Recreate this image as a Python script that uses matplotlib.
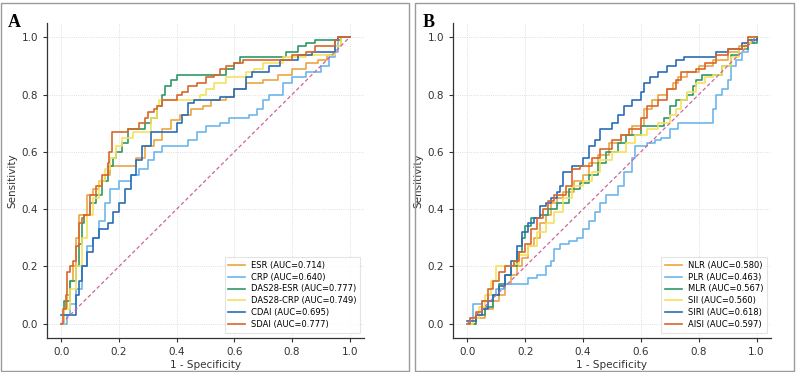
import matplotlib
matplotlib.use("Agg")
import matplotlib.pyplot as plt
from matplotlib.patches import Rectangle

# Panel A: clinical indices (fpr, tpr staircase vertices)
esr_fpr = [0, .01, .02, .03, .04, .05, .06, .09, .11, .13, .15, .17, .26, .29, .32, .35, .38, .41, .45, .49, .52, .57, .60, .64, .70, .75, .80, .85, .89, .92, .95, .97, 1.0]
esr_tpr = [0, .05, .10, .15, .20, .30, .38, .45, .47, .50, .52, .55, .58, .62, .64, .68, .71, .73, .75, .76, .78, .79, .82, .84, .85, .87, .89, .91, .92, .94, .97, 1.0, 1.0]

crp_fpr = [0, .02, .03, .05, .07, .09, .11, .13, .15, .17, .20, .24, .27, .30, .32, .35, .44, .47, .50, .55, .58, .65, .68, .70, .72, .77, .80, .85, .90, .93, .95, .96, 1.0]
crp_tpr = [0, .03, .07, .12, .20, .27, .30, .36, .42, .47, .50, .52, .54, .57, .60, .62, .64, .67, .69, .70, .72, .73, .75, .78, .80, .84, .86, .88, .90, .93, .95, 1.0, 1.0]

das_esr_fpr = [0, .01, .03, .05, .06, .07, .08, .10, .12, .14, .16, .18, .19, .21, .23, .29, .31, .33, .35, .36, .38, .40, .57, .60, .62, .78, .82, .85, .88, .97, 1.0]
das_esr_tpr = [0, .08, .15, .20, .28, .35, .38, .42, .45, .50, .55, .58, .60, .63, .68, .70, .72, .76, .80, .83, .85, .87, .89, .91, .93, .95, .97, .98, .99, 1.0, 1.0]

das_crp_fpr = [0, .01, .03, .05, .07, .09, .11, .13, .15, .17, .19, .21, .25, .31, .33, .34, .48, .50, .53, .57, .64, .67, .70, .77, .85, .95, .97, 1.0]
das_crp_tpr = [0, .05, .12, .20, .30, .38, .44, .50, .54, .58, .62, .65, .67, .72, .76, .78, .80, .82, .84, .86, .88, .89, .91, .93, .94, .97, 1.0, 1.0]

cdai_fpr = [0, .05, .06, .07, .09, .11, .13, .16, .18, .20, .22, .24, .26, .28, .31, .40, .42, .44, .46, .55, .60, .64, .66, .72, .76, .82, .87, .95, .96, 1.0]
cdai_tpr = [.03, .10, .15, .20, .25, .30, .33, .35, .39, .42, .47, .52, .57, .62, .67, .70, .73, .77, .78, .79, .82, .86, .88, .90, .92, .94, .95, .99, 1.0, 1.0]

sdai_fpr = [0, .005, .015, .02, .03, .04, .05, .06, .07, .08, .10, .12, .14, .16, .165, .175, .23, .27, .29, .30, .32, .33, .35, .40, .42, .44, .47, .50, .53, .55, .57, .60, .63, .80, .85, .88, .95, .96, 1.0]
sdai_tpr = [0, .05, .10, .18, .20, .22, .27, .35, .37, .38, .45, .48, .52, .56, .60, .67, .68, .70, .72, .74, .75, .76, .78, .80, .81, .83, .84, .86, .87, .89, .90, .91, .92, .94, .95, .97, .99, 1.0, 1.0]

# Panel B: blood cell ratios
nlr_fpr = [0, .03, .06, .09, .11, .13, .15, .17, .19, .21, .23, .25, .27, .29, .31, .33, .37, .40, .42, .45, .49, .53, .57, .61, .64, .66, .69, .71, .73, .76, .80, .85, .90, .94, .97, 1.0]
nlr_tpr = [0, .02, .05, .08, .10, .14, .17, .20, .23, .27, .30, .35, .38, .42, .44, .46, .50, .52, .56, .59, .63, .66, .69, .75, .78, .80, .82, .84, .86, .88, .90, .92, .95, .97, 1.0, 1.0]

plr_fpr = [0, .01, .02, .05, .07, .10, .13, .21, .24, .27, .29, .30, .32, .35, .38, .40, .42, .44, .46, .48, .52, .54, .57, .58, .62, .65, .67, .70, .73, .85, .86, .88, .90, .91, .93, .95, .97, .99, 1.0]
plr_tpr = [0, .02, .07, .08, .10, .12, .14, .16, .17, .20, .22, .26, .28, .29, .30, .33, .36, .39, .42, .45, .48, .53, .58, .62, .63, .64, .65, .68, .70, .75, .80, .82, .85, .90, .92, .95, .98, 1.0, 1.0]

mlr_fpr = [0, .03, .06, .09, .11, .13, .15, .17, .19, .20, .22, .25, .28, .31, .35, .39, .42, .45, .48, .52, .55, .60, .68, .70, .72, .76, .78, .79, .81, .88, .91, .94, .97, 1.0]
mlr_tpr = [0, .03, .06, .10, .14, .17, .20, .25, .30, .34, .37, .38, .40, .42, .47, .49, .52, .56, .60, .63, .66, .69, .72, .76, .78, .80, .83, .85, .87, .90, .94, .96, .98, 1.0]

sii_fpr = [0, .02, .04, .06, .08, .10, .16, .18, .21, .24, .27, .30, .33, .36, .40, .43, .46, .50, .55, .58, .62, .66, .70, .72, .74, .76, .79, .82, .85, .88, .91, .94, .96, .98, 1.0]
sii_tpr = [0, .02, .06, .10, .15, .20, .21, .24, .27, .32, .35, .39, .44, .48, .50, .53, .57, .60, .63, .66, .68, .70, .73, .75, .78, .81, .84, .86, .87, .90, .93, .96, .98, 1.0, 1.0]

siri_fpr = [0, .03, .05, .07, .09, .11, .13, .15, .17, .19, .21, .23, .25, .27, .29, .31, .32, .33, .36, .40, .42, .44, .46, .50, .52, .54, .57, .60, .61, .63, .66, .69, .72, .75, .86, .90, .95, .97, 1.0]
siri_tpr = [.01, .03, .05, .08, .10, .13, .17, .22, .27, .32, .35, .37, .41, .42, .44, .46, .48, .53, .55, .58, .62, .64, .68, .70, .73, .76, .78, .81, .84, .86, .88, .90, .92, .93, .95, .96, .98, .99, 1.0]

aisi_fpr = [0, .01, .03, .05, .07, .09, .11, .13, .16, .18, .20, .22, .24, .26, .28, .30, .34, .36, .39, .43, .46, .50, .53, .56, .60, .62, .66, .69, .72, .74, .79, .82, .86, .90, .95, .97, 1.0]
aisi_tpr = [0, .02, .04, .08, .12, .15, .18, .20, .22, .25, .28, .33, .37, .40, .43, .45, .48, .54, .55, .58, .61, .64, .66, .68, .72, .76, .78, .82, .85, .88, .89, .91, .94, .96, .97, 1.0, 1.0]

labels_a = ["ESR (AUC=0.714)", "CRP (AUC=0.640)", "DAS28-ESR (AUC=0.777)",
            "DAS28-CRP (AUC=0.749)", "CDAI (AUC=0.695)", "SDAI (AUC=0.777)"]
labels_b = ["NLR (AUC=0.580)", "PLR (AUC=0.463)", "MLR (AUC=0.567)",
            "SII (AUC=0.560)", "SIRI (AUC=0.618)", "AISI (AUC=0.597)"]

colors = ["#EBA444", "#6DB6EC", "#2F9A66", "#F4E25C", "#2A6DB8", "#D9662B"]

curves_a = [(esr_fpr, esr_tpr), (crp_fpr, crp_tpr), (das_esr_fpr, das_esr_tpr),
            (das_crp_fpr, das_crp_tpr), (cdai_fpr, cdai_tpr), (sdai_fpr, sdai_tpr)]
curves_b = [(nlr_fpr, nlr_tpr), (plr_fpr, plr_tpr), (mlr_fpr, mlr_tpr),
            (sii_fpr, sii_tpr), (siri_fpr, siri_tpr), (aisi_fpr, aisi_tpr)]

fig = plt.figure(figsize=(7.96, 3.72), dpi=100)
W, H = 796, 372


def nacrtaj(ax, curves, labels):
    for (x, y), lab, c in zip(curves, labels, colors):
        ax.plot(x, y, drawstyle="steps-post", color=c, lw=1.2, label=lab)
    ax.plot([0, 1], [0, 1], ls="--", color="#CC6699", lw=0.9, dashes=(3, 2))
    ax.set_xlim(-0.05, 1.05)
    ax.set_ylim(-0.05, 1.05)
    ticks = [0, 0.2, 0.4, 0.6, 0.8, 1.0]
    ax.set_xticks(ticks)
    ax.set_yticks(ticks)
    ax.set_xticklabels([f"{t:.1f}" for t in ticks])
    ax.set_yticklabels([f"{t:.1f}" for t in ticks])
    ax.tick_params(labelsize=7.5, length=3, width=0.8, colors="#333333", direction="out")
    ax.grid(True, ls=":", color="#D5D5D5", lw=0.6)
    for s in ["top", "right"]:
        ax.spines[s].set_visible(False)
    for s in ["left", "bottom"]:
        ax.spines[s].set_color("#333333")
        ax.spines[s].set_linewidth(0.9)
    ax.set_xlabel("1 - Specificity", fontsize=7.5, color="#333333", labelpad=2)
    ax.set_ylabel("Sensitivity", fontsize=7.5, color="#333333", labelpad=3)
    leg = ax.legend(loc="lower right", fontsize=6, frameon=True, handlelength=2.0,
                    handletextpad=0.7, borderpad=0.45, labelspacing=0.35,
                    fancybox=False, borderaxespad=0,
                    bbox_to_anchor=(1 - 4 / 317, 5 / 315))
    leg.get_frame().set_edgecolor("#DDDDDD")
    leg.get_frame().set_linewidth(0.8)


ax_a = fig.add_axes([47 / W, 1 - 338 / H, (364 - 47) / W, (338 - 23) / H])
ax_b = fig.add_axes([453 / W, 1 - 338 / H, (771 - 453) / W, (338 - 23) / H])
nacrtaj(ax_a, curves_a, labels_a)
nacrtaj(ax_b, curves_b, labels_b)

# okviri panela
fig.add_artist(Rectangle((1 / W, 1 / H), 408 / W, 368 / H, transform=fig.transFigure,
                         fill=False, edgecolor="#9A9A9A", lw=1.0))
fig.add_artist(Rectangle((415 / W, 1 / H), 379 / W, 368 / H, transform=fig.transFigure,
                         fill=False, edgecolor="#9A9A9A", lw=1.0))

fig.text(8 / W, 1 - 27 / H, "A", fontsize=13, fontweight="bold", family="Liberation Serif")
fig.text(423 / W, 1 - 27 / H, "B", fontsize=13, fontweight="bold", family="Liberation Serif")

fig.savefig("out.png", dpi=100)
